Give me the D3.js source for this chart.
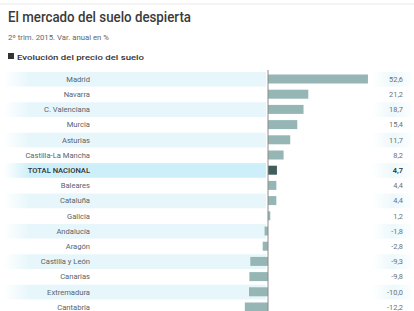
<!DOCTYPE html>
<html>
<head>
<meta charset="utf-8">
<script src="https://cdn.jsdelivr.net/npm/d3@7"></script>
<style>
  html, body { margin: 0; padding: 0; background: #fff; }
  svg { display: block; font-family: Roboto, "Noto Sans", sans-serif; }
</style>
</head>
<body>
<svg id="chart" width="414" height="311"></svg>
<script>
// Regions and the annual change of land prices (%)
const regions = ["Madrid", "Navarra", "C. Valenciana", "Murcia", "Asturias", "Castilla-La Mancha",
  "TOTAL NACIONAL", "Baleares", "Cataluña", "Galicia", "Andalucía", "Aragón",
  "Castilla y León", "Canarias", "Extremadura", "Cantabria"];
const changes = [52.6, 21.2, 18.7, 15.4, 11.7, 8.2, 4.7, 4.4, 4.4, 1.2, -1.8, -2.8, -9.3, -9.8, -10.0, -12.2];
const totalLabel = "TOTAL NACIONAL";

const title = "El mercado del suelo despierta";
const subtitle = "2º trim. 2015. Var. anual en %";
const section = "Evolución del precio del suelo";

const rows = regions.map((r, i) => ({ region: r, value: changes[i], i }));
const fmt = v => d3.format(".1f")(v).replace(".", ",").replace("−", "-");

const svg = d3.select("#chart");
const defs = svg.append("defs");

function fade(id, color, stops) {
  const g = defs.append("linearGradient").attr("id", id);
  stops.forEach(([o, a]) => g.append("stop").attr("offset", o).attr("stop-color", color).attr("stop-opacity", a));
}
fade("fadeL", "#e6f6fb", [["0%", 0], ["10%", 1], ["100%", 1]]);
fade("fadeT", "#cdeff9", [["0%", 0], ["10%", 1], ["100%", 1]]);
fade("fadeR", "#edf8fb", [["0%", 0], ["50%", 1], ["100%", 0]]);

// faint top rule
svg.append("rect").attr("x", 0).attr("y", 3).attr("width", 414).attr("height", 2).attr("fill", "#f4f4f4");

// headings
svg.append("text").attr("x", 8).attr("y", 22).text(title)
  .attr("font-size", 15).attr("font-weight", 500).attr("fill", "#3a3a3a")
  .attr("textLength", 183).attr("lengthAdjust", "spacingAndGlyphs");
svg.append("text").attr("x", 8).attr("y", 40).text(subtitle)
  .attr("font-size", 7.5).attr("fill", "#666")
  .attr("textLength", 101).attr("lengthAdjust", "spacingAndGlyphs");
svg.append("rect").attr("x", 8).attr("y", 53).attr("width", 6).attr("height", 6).attr("fill", "#333");
svg.append("text").attr("x", 17).attr("y", 59.5).text(section)
  .attr("font-size", 8).attr("font-weight", 500).attr("fill", "#333")
  .attr("textLength", 127).attr("lengthAdjust", "spacingAndGlyphs");

// scales
const y = d3.scaleBand().domain(regions).range([71.4, 71.4 + regions.length * 15.2]).padding(0);
const x = d3.scaleLinear().domain([-20, 55]).range([230, 372.5]);

// row stripes
const striped = rows.filter(d => d.i % 2 === 0);
svg.append("g").selectAll("rect").data(striped).join("rect")
  .attr("x", 4).attr("width", x(0) - 6)
  .attr("y", d => y(d.region) + 0.5).attr("height", y.bandwidth() - 0.5)
  .attr("fill", d => d.region === totalLabel ? "url(#fadeT)" : "url(#fadeL)");
svg.append("g").selectAll("rect").data(striped).join("rect")
  .attr("x", 372).attr("width", 42)
  .attr("y", d => y(d.region) + 0.5).attr("height", y.bandwidth() - 0.5)
  .attr("fill", "url(#fadeR)");

// bars
svg.append("g").selectAll("rect").data(rows).join("rect")
  .attr("x", d => x(Math.min(0, d.value)))
  .attr("width", d => Math.abs(x(d.value) - x(0)))
  .attr("y", d => y(d.region) + y.bandwidth() / 2 - 4.5)
  .attr("height", 9)
  .attr("fill", d => d.region === totalLabel ? "#3f5e5c" : "#95b6b5");

// zero axis
svg.append("line")
  .attr("x1", x(0)).attr("x2", x(0))
  .attr("y1", 70).attr("y2", 311)
  .attr("stroke", "#8a8a8a").attr("stroke-width", 1);

// region labels
svg.append("g").selectAll("text").data(rows).join("text")
  .attr("x", 90).attr("y", d => y(d.region) + y.bandwidth() / 2 + 2.8)
  .attr("text-anchor", "end")
  .attr("font-size", 7.6)
  .attr("font-weight", d => d.region === totalLabel ? 500 : 400)
  .attr("fill", d => d.region === totalLabel ? "#333" : "#5b6366")
  .text(d => d.region);

// value labels
svg.append("g").selectAll("text").data(rows).join("text")
  .attr("x", 403).attr("y", d => y(d.region) + y.bandwidth() / 2 + 2.8)
  .attr("text-anchor", "end")
  .attr("font-size", 7.4)
  .attr("font-weight", d => d.region === totalLabel ? 600 : 400)
  .attr("fill", d => d.region === totalLabel ? "#333" : "#6a6f72")
  .text(d => fmt(d.value));
</script>
</body>
</html>
